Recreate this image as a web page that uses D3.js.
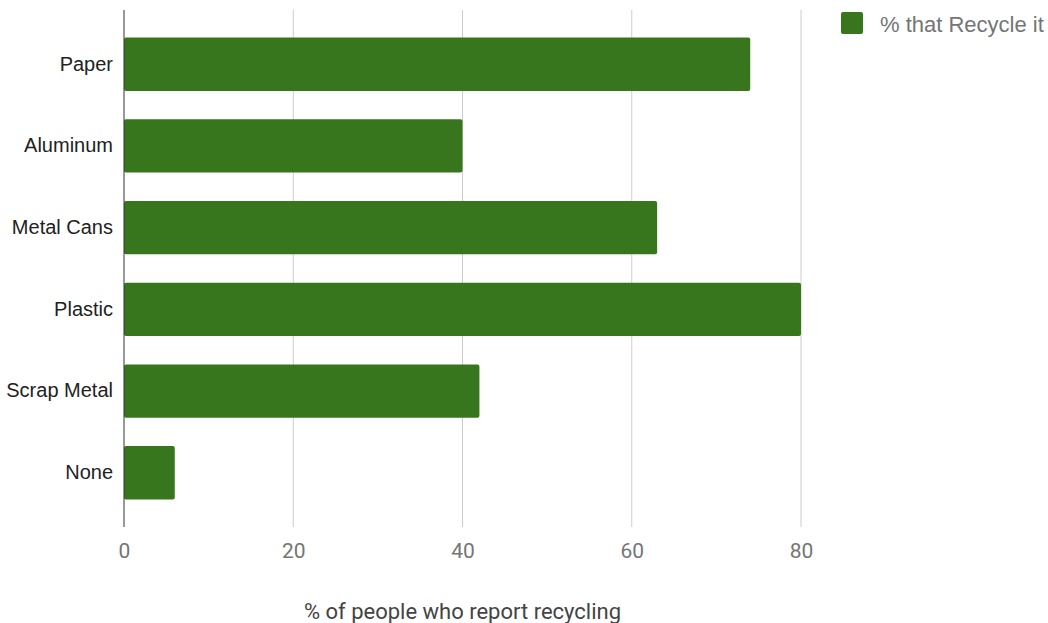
<!DOCTYPE html>
<html>
<head>
<meta charset="utf-8">
<script src="https://cdn.jsdelivr.net/npm/d3@7"></script>
<style>
  body { margin: 0; background: #fff; }
  svg { display: block; }
</style>
</head>
<body>
<svg id="chart"></svg>
<script>
(function () {
  'use strict';

  var categories = ['Paper', 'Aluminum', 'Metal Cans', 'Plastic', 'Scrap Metal', 'None'];
  var recycleValues = [74, 40, 63, 80, 42, 6];
  var xTicks = [0, 20, 40, 60, 80];
  var seriesName = '% that Recycle it';
  var axisTitle = '% of people who report recycling';

  var width = 1048, height = 623;
  var margin = {top: 10, right: 247, bottom: 96, left: 124};
  var innerW = width - margin.left - margin.right;
  var innerH = height - margin.top - margin.bottom;

  var svg = d3.select('#chart')
    .attr('width', width)
    .attr('height', height);

  var g = svg.append('g')
    .attr('transform', 'translate(' + margin.left + ',' + margin.top + ')');

  var x = d3.scaleLinear().domain([0, 80]).range([0, innerW]);
  var y = d3.scaleBand()
    .domain(categories)
    .range([0, innerH])
    .paddingInner(0.348)
    .paddingOuter(0.338);

  // gridlines
  g.selectAll('.grid')
    .data(xTicks.filter(function (d) { return d !== 0; }))
    .enter()
    .append('line')
    .attr('class', 'grid')
    .attr('x1', function (d) { return x(d); })
    .attr('x2', function (d) { return x(d); })
    .attr('y1', 0)
    .attr('y2', innerH)
    .attr('stroke', '#cccccc')
    .attr('stroke-width', 1);

  // bars
  g.selectAll('.bar')
    .data(categories)
    .enter()
    .append('rect')
    .attr('class', 'bar')
    .attr('x', x(0))
    .attr('y', function (d) { return y(d); })
    .attr('width', function (d, i) { return x(recycleValues[i]) - x(0); })
    .attr('height', y.bandwidth())
    .attr('rx', 2)
    .attr('fill', '#38761d');

  // baseline
  g.append('line')
    .attr('x1', x(0)).attr('x2', x(0))
    .attr('y1', 0).attr('y2', innerH)
    .attr('stroke', '#333333')
    .attr('stroke-width', 1);

  // x axis labels
  var xAxis = g.append('g')
    .attr('transform', 'translate(0,' + innerH + ')')
    .call(d3.axisBottom(x).tickValues(xTicks).tickSize(0).tickPadding(16));
  xAxis.select('.domain').remove();
  xAxis.selectAll('text')
    .attr('fill', '#757575')
    .style('font-family', 'Roboto, sans-serif')
    .style('font-size', '21px');

  // y axis labels
  var yAxis = g.append('g')
    .call(d3.axisLeft(y).tickSize(0).tickPadding(11));
  yAxis.select('.domain').remove();
  yAxis.selectAll('text')
    .attr('fill', '#222222')
    .style('font-family', '"Liberation Sans", Arial, sans-serif')
    .style('font-size', '20px');

  // axis title
  svg.append('text')
    .attr('x', margin.left + innerW / 2)
    .attr('y', 619)
    .attr('text-anchor', 'middle')
    .attr('fill', '#444444')
    .style('font-family', 'Roboto, sans-serif')
    .style('font-size', '22px')
    .text(axisTitle);

  // legend
  var legend = svg.append('g')
    .attr('transform', 'translate(841,12)');
  legend.append('rect')
    .attr('width', 22)
    .attr('height', 22)
    .attr('rx', 2)
    .attr('fill', '#38761d');
  legend.append('text')
    .attr('x', 39)
    .attr('y', 20)
    .attr('fill', '#757575')
    .style('font-family', '"Liberation Sans", Arial, sans-serif')
    .style('font-size', '22px')
    .text(seriesName);
}());
</script>
</body>
</html>
